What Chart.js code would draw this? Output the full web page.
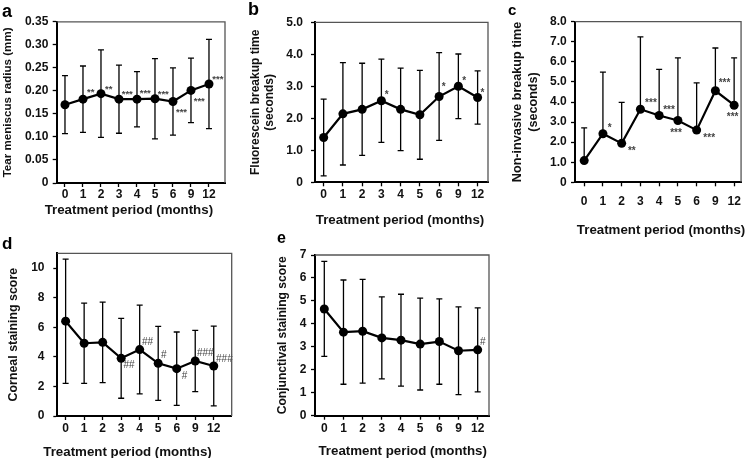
<!DOCTYPE html>
<html><head><meta charset="utf-8">
<script src="https://cdn.jsdelivr.net/npm/chart.js@4/dist/chart.umd.min.js"></script>
<style>
html,body{margin:0;padding:0;background:#fff;}
body{width:749px;height:458px;position:relative;overflow:hidden;font-family:"Liberation Sans",Arial,sans-serif;}
canvas.panel{position:absolute;}
.letter{position:absolute;font-weight:bold;color:#000;font-family:"Liberation Sans",Arial,sans-serif;}
</style></head><body>
<canvas id="pa" class="panel" style="left:0px;top:0px" width="245" height="240"></canvas>
<canvas id="pb" class="panel" style="left:245px;top:0px" width="250" height="240"></canvas>
<canvas id="pc" class="panel" style="left:495px;top:0px" width="254" height="240"></canvas>
<canvas id="pd" class="panel" style="left:0px;top:235px" width="250" height="230"></canvas>
<canvas id="pe" class="panel" style="left:250px;top:235px" width="250" height="230"></canvas>
<div class="letter" style="left:2px;top:2px;font-size:18px;line-height:18px">a</div>
<div class="letter" style="left:248px;top:0px;font-size:18px;line-height:18px">b</div>
<div class="letter" style="left:508px;top:2px;font-size:15px;line-height:15px">c</div>
<div class="letter" style="left:2px;top:235px;font-size:17px;line-height:17px">d</div>
<div class="letter" style="left:277px;top:230px;font-size:16px;line-height:16px">e</div>
<script>
// ---------- DATA ----------
const months = ['0','1','2','3','4','5','6','9','12'];
const xAxisTitle = 'Treatment period (months)';

const tearMeniscusMean = [0.170,0.182,0.194,0.182,0.182,0.183,0.177,0.201,0.215];
const tearMeniscusSD   = [0.063,0.072,0.095,0.074,0.060,0.087,0.073,0.070,0.097];
const tearMeniscusMarks = ['','**','**','***','***','***','***','***','***'];
const tearMeniscusTicks = [0,0.05,0.10,0.15,0.20,0.25,0.30,0.35];
const tearMeniscusTickLabels = ['0','0.05','0.10','0.15','0.20','0.25','0.30','0.35'];

const fbutMean = [1.40,2.14,2.28,2.55,2.28,2.11,2.68,3.00,2.65];
const fbutSD   = [1.20,1.60,1.44,1.30,1.29,1.39,1.37,1.01,0.83];
const fbutMarks = ['','','','*','','','*','*','*'];
const fbutTicks = [0,1,2,3,4,5];
const fbutTickLabels = ['0','1.0','2.0','3.0','4.0','5.0'];

const nibutMean = [1.08,2.42,1.94,3.64,3.33,3.08,2.60,4.56,3.84];
const nibutSD   = [1.63,3.07,2.04,3.60,2.30,3.12,2.35,2.13,2.36];
const nibutMarks = ['','*','**','***','***','***','***','***','***'];
const nibutTicks = [0,1,2,3,4,5,6,7,8];
const nibutTickLabels = ['0','1.0','2.0','3.0','4.0','5.0','6.0','7.0','8.0'];

const cornealMean = [6.41,4.92,4.98,3.90,4.49,3.56,3.20,3.72,3.38];
const cornealSD   = [4.20,2.71,2.72,2.70,3.00,2.50,2.48,2.07,2.69];
const cornealMarks = ['','','','##','##','#','#','###','###'];
const cornealTicks = [0,2,4,6,8,10];
const cornealTickLabels = ['0','2','4','6','8','10'];

const conjMean = [4.65,3.64,3.68,3.39,3.29,3.12,3.23,2.83,2.87];
const conjSD   = [2.07,2.27,2.26,1.79,2.00,2.00,1.86,1.91,1.83];
const conjMarks = ['','','','','','','','','#'];
const conjTicks = [0,1,2,3,4,5,6,7];
const conjTickLabels = ['0','1','2','3','4','5','6','7'];

// ---------- PLUGINS ----------
const errorBars = {
  id: 'errorBars',
  beforeDatasetsDraw(chart, args, opts) {
    const {ctx, scales:{x, y}} = chart;
    const ds = chart.data.datasets[0];
    ctx.save();
    ctx.strokeStyle = '#000';
    ctx.lineWidth = 1.3;
    ds.data.forEach((p, i) => {
      const sd = opts.sd[i];
      const px = x.getPixelForValue(p.x);
      const top = y.getPixelForValue(p.y + sd);
      const bot = opts.upperOnly ? y.getPixelForValue(p.y) : y.getPixelForValue(p.y - sd);
      ctx.beginPath();
      ctx.moveTo(px, top); ctx.lineTo(px, bot);
      ctx.moveTo(px - 3, top); ctx.lineTo(px + 3, top);
      if (!opts.upperOnly) { ctx.moveTo(px - 3, bot); ctx.lineTo(px + 3, bot); }
      ctx.stroke();
    });
    ctx.restore();
  }
};
const frame = {
  id: 'frame',
  afterDraw(chart) {
    const {ctx, chartArea:{left, right, top, bottom}} = chart;
    ctx.save();
    ctx.strokeStyle = '#555';
    ctx.lineWidth = 1.3;
    ctx.beginPath();
    ctx.moveTo(left, top); ctx.lineTo(right, top); ctx.lineTo(right, bottom);
    ctx.stroke();
    ctx.restore();
  }
};
const marks = {
  id: 'marks',
  afterDatasetsDraw(chart, args, opts) {
    const {ctx, scales:{x, y}} = chart;
    const ds = chart.data.datasets[0];
    ctx.save();
    ctx.fillStyle = '#444';
    ctx.textAlign = 'left';
    ctx.textBaseline = 'middle';
    ds.data.forEach((p, i) => {
      const t = opts.text[i];
      if (!t) return;
      const off = opts.offsets[i];
      const star = t[0] === '*';
      ctx.font = (star ? 'bold ' : '') + opts.size + 'px "Liberation Sans", Arial, sans-serif';
      ctx.fillText(t, x.getPixelForValue(p.x) + off[0], y.getPixelForValue(p.y) + off[1] + (star ? 2.2 : 0));
    });
    ctx.restore();
  }
};
// x-axis title, drawn under the x scale (centre can be shifted as in the original figure)
const xTitle = {
  id: 'xTitle',
  afterDraw(chart, args, opts) {
    const {ctx, chartArea:{left, right}} = chart;
    const xs = chart.scales.x;
    ctx.save();
    ctx.fillStyle = '#111';
    ctx.font = 'bold ' + opts.size + 'px "Liberation Sans", Arial, sans-serif';
    ctx.textAlign = 'center';
    ctx.textBaseline = 'middle';
    ctx.fillText(opts.text, (left + right) / 2 + opts.shift, xs.bottom - opts.size * 0.6);
    ctx.restore();
  }
};

const TICKFONT = {family: '"Liberation Sans", Arial, sans-serif', size: 12, weight: 'bold'};
const INK = '#111';

function makePanel(id, c) {
  return new Chart(document.getElementById(id), {
    type: 'line',
    data: {
      datasets: [{
        data: c.mean.map((v, i) => ({x: i, y: v})),
        borderColor: '#000', backgroundColor: '#000', borderWidth: 2.2,
        pointRadius: 4.5, pointBackgroundColor: '#000', pointBorderWidth: 0,
        tension: 0
      }]
    },
    options: {
      responsive: false, animation: false, devicePixelRatio: 1,
      layout: {padding: c.pad},
      plugins: {
        legend: {display: false}, tooltip: {enabled: false},
        errorBars: {sd: c.sd, upperOnly: !!c.upperOnly},
        marks: {text: c.marks, offsets: c.markOffsets, size: c.markSize || 10},
        xTitle: {text: xAxisTitle, shift: c.xTitleShift, size: 13.3}
      },
      scales: {
        x: {
          type: 'linear', min: c.xmin, max: c.xmax,
          afterBuildTicks: s => { s.ticks = months.map((m, i) => ({value: i})); },
          afterFit: s => { s.height = c.xH; },
          ticks: {autoSkip: false, maxRotation: 0, padding: c.xPad, font: TICKFONT, color: INK,
                  callback: (v, i) => months[i]},
          grid: {drawOnChartArea: false, drawTicks: true, tickLength: 4, tickColor: '#000', tickWidth: 1.3},
          border: {display: true, color: '#000', width: 2},
          title: {display: false}
        },
        y: {
          type: 'linear', min: 0, max: c.ymax,
          afterBuildTicks: s => { s.ticks = c.yTicks.map(v => ({value: v})); },
          afterFit: s => { s.width = c.yW; },
          ticks: {padding: c.yPad, font: TICKFONT, color: INK, callback: (v, i) => c.yLabels[i]},
          grid: {drawOnChartArea: false, drawTicks: true, tickLength: 4, tickColor: '#000', tickWidth: 1.3},
          border: {display: true, color: '#000', width: 2},
          title: {display: true, text: c.yTitle, color: INK, padding: 0,
                  font: {family: '"Liberation Sans", Arial, sans-serif', size: c.yTitleSize || 12, weight: 'bold'}}
        }
      }
    },
    plugins: [errorBars, marks, frame, xTitle]
  });
}

makePanel('pa', {
  mean: tearMeniscusMean, sd: tearMeniscusSD, marks: tearMeniscusMarks, markSize: 9.5,
  markOffsets: [null,[4,-9.3],[4,-6],[2.7,-6.7],[2.7,-8],[2.7,-6.7],[3,8.3],[2.7,9],[3.3,-6.7]],
  yTicks: tearMeniscusTicks, yLabels: tearMeniscusTickLabels, ymax: 0.35,
  yTitle: 'Tear meniscus radius (mm)', yTitleSize: 11.6,
  pad: {left: 1.3, top: 21.8, right: 20, bottom: 22},
  yW: 55.4, yPad: 4.4, xH: 35, xPad: 0, xmin: -0.46, xmax: 8.89, xTitleShift: -12
});
makePanel('pb', {
  mean: fbutMean, sd: fbutSD, marks: fbutMarks,
  markOffsets: [null,null,null,[3.3,-8],null,null,[2.7,-11],[4,-7],[3,-6.7]],
  yTicks: fbutTicks, yLabels: fbutTickLabels, ymax: 5,
  yTitle: ['Fluorescein breakup time', '(seconds)'],
  pad: {left: 3, top: 22.3, right: 7, bottom: 12},
  yW: 67, yPad: 8, xH: 45.7, xPad: 1.5, xmin: -0.45, xmax: 8.54, xTitleShift: -1.5
});
makePanel('pc', {
  mean: nibutMean, sd: nibutSD, marks: nibutMarks, upperOnly: true,
  markOffsets: [null,[4.7,-7.7],[6.3,5.3],[4.7,-7.7],[4,-7.7],[-7.7,11],[6.7,6.3],[3.3,-9.7],[-7.3,10.3]],
  yTicks: nibutTicks, yLabels: nibutTickLabels, ymax: 8,
  yTitle: ['Non-invasive breakup time', '(seconds)'], yTitleSize: 12.6,
  pad: {left: 15.4, top: 21.7, right: 4.7, bottom: 2},
  yW: 64.6, yPad: 4.3, xH: 55.7, xPad: 8, xmin: -0.49, xmax: 8.37, xTitleShift: 3
});
makePanel('pd', {
  mean: cornealMean, sd: cornealSD, marks: cornealMarks,
  markOffsets: [null,null,null,[2.3,7.3],[2.3,-7.3],[2.7,-8.3],[5,7.3],[1.7,-7.7],[2.3,-7]],
  yTicks: cornealTicks, yLabels: cornealTickLabels, ymax: 11,
  yTitle: 'Corneal staining score', yTitleSize: 12.4,
  pad: {left: 5.9, top: 18.3, right: 18.3, bottom: 4.3},
  yW: 51.4, yPad: 8.8, xH: 44.7, xPad: 1, xmin: -0.45, xmax: 8.97, xTitleShift: -17
});
makePanel('pe', {
  mean: conjMean, sd: conjSD, marks: conjMarks,
  markOffsets: [null,null,null,null,null,null,null,null,[2.3,-7.3]],
  yTicks: conjTicks, yLabels: conjTickLabels, ymax: 7,
  yTitle: 'Conjunctival staining score', yTitleSize: 12.1,
  pad: {left: 25.7, top: 20, right: 11, bottom: 5.3},
  yW: 39.3, yPad: 4.5, xH: 44, xPad: 1.4, xmin: -0.485, xmax: 8.59, xTitleShift: 0.7
});
</script>
</body></html>
